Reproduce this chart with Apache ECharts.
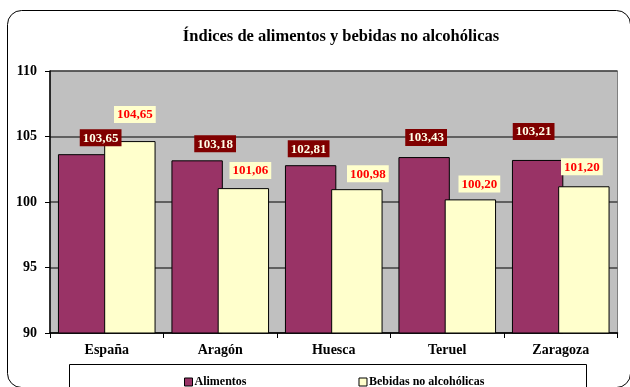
<!DOCTYPE html>
<html>
<head>
<meta charset="utf-8">
<script src="https://cdn.jsdelivr.net/npm/echarts@6/dist/echarts.min.js"></script>
<style>
  html, body { margin: 0; padding: 0; background: #ffffff; }
  #chart { width: 630px; height: 387px; }
</style>
</head>
<body>
<div id="chart"></div>
<script>
// Regiones y valores de los índices
const categories = ['España', 'Aragón', 'Huesca', 'Teruel', 'Zaragoza'];
const alimentos = [103.65, 103.18, 102.81, 103.43, 103.21];
const bebidas = [104.65, 101.06, 100.98, 100.20, 101.20];
const seriesNames = ['Alimentos', 'Bebidas no alcohólicas'];
const yTicks = { min: 90, max: 110, step: 5 };

// Desplazamiento manual de cada etiqueta respecto a su barra [dx, dy]
const alimentosLabelShift = [[17, -8], [18, -8], [-2, -8], [2, -11], [-4, -20]];
const bebidasLabelShift = [[5, -18], [7, -9], [11, -7], [9, -7], [-2, -11]];

const SERIF = '"Liberation Serif", "Times New Roman", serif';
const fmt = v => v.toFixed(2).replace('.', ',');

function buildData(values, shifts) {
  return values.map((v, i) => ({ value: v, label: { offset: shifts[i] } }));
}

const chart = echarts.init(document.getElementById('chart'), null, { renderer: 'canvas' });

chart.setOption({
  animation: false,
  backgroundColor: '#ffffff',
  textStyle: { fontFamily: SERIF },
  title: {
    text: 'Índices de alimentos y bebidas no alcohólicas',
    left: 336, textAlign: 'center', top: 23,
    textStyle: { fontFamily: SERIF, fontSize: 16.5, fontWeight: 'bold', color: '#000' }
  },
  graphic: [
    {
      type: 'rect', z: -10, silent: true,
      shape: { x: 7.5, y: 10.5, width: 623, height: 377, r: 14 },
      style: { fill: 'transparent', stroke: '#000', lineWidth: 1 }
    },
    {
      type: 'rect', z: 0, silent: true,
      shape: { x: 69.5, y: 364.5, width: 517, height: 30 },
      style: { fill: '#fff', stroke: '#000', lineWidth: 1 }
    }
  ],
  legend: {
    data: seriesNames,
    left: 179, top: 371,
    itemWidth: 8, itemHeight: 8, itemGap: 112,
    icon: 'rect',
    itemStyle: { borderColor: '#000', borderWidth: 1 },
    textStyle: { fontFamily: SERIF, fontSize: 12, fontWeight: 'bold', color: '#000', padding: [0, 0, 0, -3] },
    z: 5
  },
  grid: {
    left: 50, right: 12.5, top: 71, bottom: 54,
    show: true, backgroundColor: '#C0C0C0', borderColor: '#808080', borderWidth: 1
  },
  xAxis: {
    type: 'category',
    data: categories,
    axisLine: { lineStyle: { color: '#000', width: 1.5 } },
    axisTick: { show: true, length: 5, lineStyle: { color: '#000' } },
    axisLabel: { margin: 10, fontFamily: SERIF, fontSize: 14, fontWeight: 'bold', color: '#000' }
  },
  yAxis: {
    type: 'value',
    min: yTicks.min, max: yTicks.max, interval: yTicks.step,
    axisLine: { show: true, lineStyle: { color: '#000', width: 1.5 } },
    axisTick: { show: true, length: 5, lineStyle: { color: '#000' } },
    axisLabel: { margin: 13, fontFamily: SERIF, fontSize: 14, fontWeight: 'bold', color: '#000' },
    splitLine: { lineStyle: { color: '#404040', width: 1.5 } }
  },
  series: [
    {
      name: seriesNames[0],
      type: 'bar',
      barCategoryGap: '14%',
      barGap: '-10%',
      data: buildData(alimentos, alimentosLabelShift),
      itemStyle: { color: '#993366', borderColor: '#000', borderWidth: 1 },
      label: {
        show: true, position: 'top', distance: 0,
        formatter: p => fmt(p.value),
        fontFamily: SERIF, fontSize: 13, fontWeight: 'bold',
        color: '#FFFFE8', backgroundColor: '#800000',
        padding: [2, 3, 1, 3], lineHeight: 14
      }
    },
    {
      name: seriesNames[1],
      type: 'bar',
      barCategoryGap: '14%',
      barGap: '-10%',
      data: buildData(bebidas, bebidasLabelShift),
      itemStyle: { color: '#FFFFCC', borderColor: '#000', borderWidth: 1 },
      label: {
        show: true, position: 'top', distance: 0,
        formatter: p => fmt(p.value),
        fontFamily: SERIF, fontSize: 13, fontWeight: 'bold',
        color: '#FF0000', backgroundColor: '#FFFFCC',
        padding: [2, 3, 1, 3], lineHeight: 14
      }
    }
  ]
});
</script>
</body>
</html>
